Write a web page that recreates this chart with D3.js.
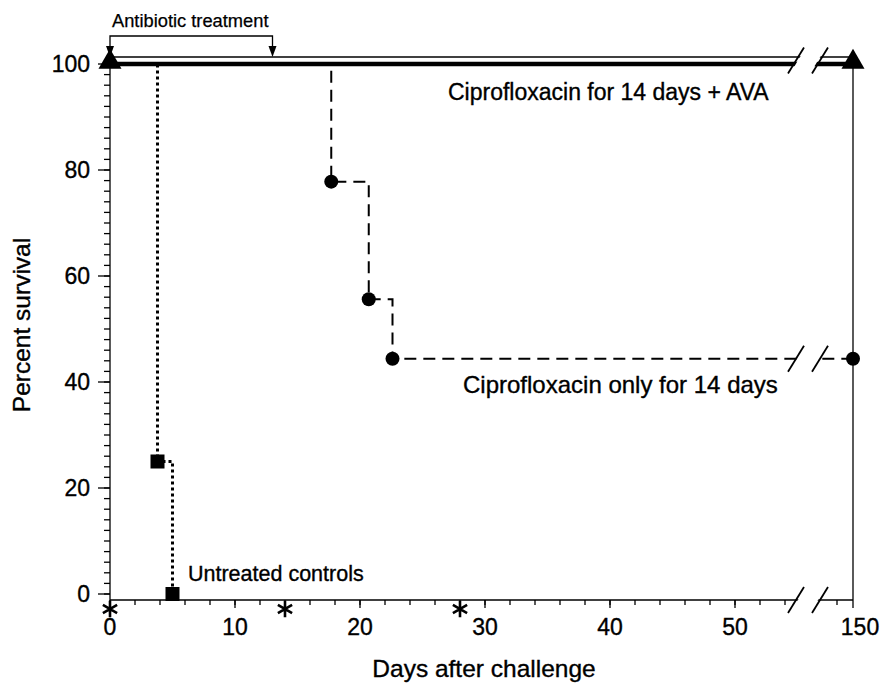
<!DOCTYPE html>
<html><head><meta charset="utf-8">
<script src="https://cdn.jsdelivr.net/npm/d3@7"></script>
<style>body{margin:0;background:#fff}svg{display:block}text{font-family:"Liberation Sans",Arial,Helvetica,sans-serif;fill:#000;stroke:#000;stroke-width:0.35px}</style>
</head><body><div id="chart"></div>
<script>
// ---- data ----
const untreatedDays = [0, 3.8, 5];
const untreatedSurv = [100, 25, 0];
const ciproDays = [0, 17.7, 20.7, 22.6, 150];
const ciproSurv = [100, 77.8, 55.6, 44.4, 44.4];
const avaDays = [0, 150];
const avaSurv = [100, 100];
const xTickValues = [0, 10, 20, 30, 40, 50, 150];
const yTickValues = [0, 20, 40, 60, 80, 100];
const asteriskDays = [0, 14, 28];
const treatmentDays = [0, 13];
const seriesLabels = ["Ciprofloxacin for 14 days + AVA", "Ciprofloxacin only for 14 days", "Untreated controls"];

const W = 885, H = 684;
const svg = d3.select("#chart").append("svg").attr("width", W).attr("height", H);

const x = d3.scaleLinear().domain([0, 55, 146, 150]).range([110, 797.5, 821, 853]);
const y = d3.scaleLinear().domain([0, 100]).range([594, 64]);
const axisY = 600, topY = 57;
const xL = x(0), xR = x(150);

const zip = (a, b) => a.map((d, i) => [d, b[i]]);
const line = d3.line().x(d => x(d[0])).y(d => y(d[1])).curve(d3.curveStepAfter);

// frame lines
svg.append("line").attr("x1", xL).attr("x2", xR).attr("y1", topY).attr("y2", topY).attr("stroke", "#000").attr("stroke-width", 1.3);
svg.append("line").attr("x1", xR).attr("x2", xR).attr("y1", topY).attr("y2", axisY).attr("stroke", "#000").attr("stroke-width", 1.3);

// x axis
const xAxisG = svg.append("g").attr("transform", `translate(0,${axisY})`);
xAxisG.append("line").attr("x1", xL).attr("x2", xR).attr("stroke", "#000").attr("stroke-width", 1.3);
const minorX = d3.range(0, 55, 2).concat([148]);
xAxisG.selectAll(".mx").data(minorX).join("line").attr("x1", d => x(d)).attr("x2", d => x(d)).attr("y1", 0).attr("y2", 5).attr("stroke", "#000").attr("stroke-width", 1.3);
xAxisG.selectAll(".Mx").data(xTickValues).join("line").attr("x1", d => x(d)).attr("x2", d => x(d)).attr("y1", 0).attr("y2", 8).attr("stroke", "#000").attr("stroke-width", 1.3);
xAxisG.selectAll(".xl").data(xTickValues).join("text").attr("x", d => x(d) + (d === 150 ? 7 : 0)).attr("y", 35).attr("text-anchor", "middle").style("font-size", "23px").text(d => d);

// y axis
const yAxisG = svg.append("g").attr("transform", `translate(${xL},0)`);
yAxisG.append("line").attr("y1", topY).attr("y2", axisY).attr("stroke", "#000").attr("stroke-width", 1.3);
yAxisG.selectAll(".my").data(d3.range(0, 101, 2)).join("line").attr("x1", -6).attr("x2", 0).attr("y1", d => y(d)).attr("y2", d => y(d)).attr("stroke", "#000").attr("stroke-width", 1.3);
yAxisG.selectAll(".My").data(yTickValues).join("line").attr("x1", -12).attr("x2", 0).attr("y1", d => y(d)).attr("y2", d => y(d)).attr("stroke", "#000").attr("stroke-width", 1.3);
yAxisG.selectAll(".yl").data(yTickValues).join("text").attr("x", -20).attr("y", d => y(d)).attr("dy", "0.36em").attr("text-anchor", "end").style("font-size", "23px").text(d => d);

// series
svg.append("path").attr("d", line(zip(untreatedDays, untreatedSurv))).attr("fill", "none").attr("stroke", "#000").attr("stroke-width", 3).attr("stroke-dasharray", "3,3");
svg.append("path").attr("d", line(zip(ciproDays, ciproSurv))).attr("fill", "none").attr("stroke", "#000").attr("stroke-width", 2).attr("stroke-dasharray", "12,7");
svg.append("path").attr("d", line(zip(avaDays, avaSurv))).attr("fill", "none").attr("stroke", "#000").attr("stroke-width", 4.5);

// axis break mask + slashes
const bx1 = 796, bx2 = 820, sdx = 8, sdy = 13;
[[topY, 64], [y(44.4), y(44.4)], [axisY, axisY]].forEach(([a, b]) => {
  const cy = (a + b) / 2;
  svg.append("polygon").attr("points", `${bx1 - sdx + 2},${cy + sdy} ${bx1 + sdx + 2},${cy - sdy} ${bx2 + sdx - 2},${cy - sdy} ${bx2 - sdx - 2},${cy + sdy}`).attr("fill", "#fff");
  [bx1, bx2].forEach(bx => svg.append("line").attr("x1", bx - sdx).attr("y1", cy + sdy).attr("x2", bx + sdx).attr("y2", cy - sdy).attr("stroke", "#000").attr("stroke-width", 1.8));
});

// markers
const tri = d3.symbol().type(d3.symbolTriangle).size(230);
svg.selectAll(".tri").data(zip(avaDays, avaSurv)).join("path").attr("d", tri).attr("transform", d => `translate(${x(d[0])},${y(d[1]) - 2})`).attr("fill", "#000");
svg.selectAll(".circ").data(zip(ciproDays, ciproSurv).slice(1)).join("circle").attr("cx", d => x(d[0])).attr("cy", d => y(d[1])).attr("r", 7).attr("fill", "#000");
svg.selectAll(".sq").data(zip(untreatedDays, untreatedSurv).slice(1)).join("rect").attr("x", d => x(d[0]) - 7).attr("y", d => y(d[1]) - 7).attr("width", 14).attr("height", 14).attr("fill", "#000");

// asterisks
const ast = d3.symbol().type(d3.symbolAsterisk).size(190);
svg.selectAll(".ast").data(asteriskDays).join("path").attr("d", ast).attr("transform", d => `translate(${x(d)},609)`).attr("fill", "none").attr("stroke", "#000").attr("stroke-width", 2.6);

// antibiotic treatment bracket
const by = 36;
svg.append("path").attr("d", `M${x(treatmentDays[0])},${topY - 6}V${by}H${x(treatmentDays[1])}V${topY - 6}`).attr("fill", "none").attr("stroke", "#000").attr("stroke-width", 1.3);
treatmentDays.forEach(d => svg.append("path").attr("d", `M${x(d) - 4},${topY - 11}L${x(d) + 4},${topY - 11}L${x(d)},${topY}Z`).attr("fill", "#000"));
svg.append("text").attr("x", 112).attr("y", 27).style("font-size", "18.3px").style("stroke-width", "0.25px").text("Antibiotic treatment");

// series labels
svg.append("text").attr("x", 448).attr("y", 100).style("font-size", "23px").text(seriesLabels[0]);
svg.append("text").attr("x", 463).attr("y", 393).style("font-size", "24px").text(seriesLabels[1]);
svg.append("text").attr("x", 188).attr("y", 581).style("font-size", "21.5px").text(seriesLabels[2]);

// axis titles
svg.append("text").attr("x", 484).attr("y", 677).attr("text-anchor", "middle").style("font-size", "24.5px").text("Days after challenge");
svg.append("text").attr("transform", "translate(30,325) rotate(-90)").attr("text-anchor", "middle").style("font-size", "24.5px").text("Percent survival");
</script></body></html>
